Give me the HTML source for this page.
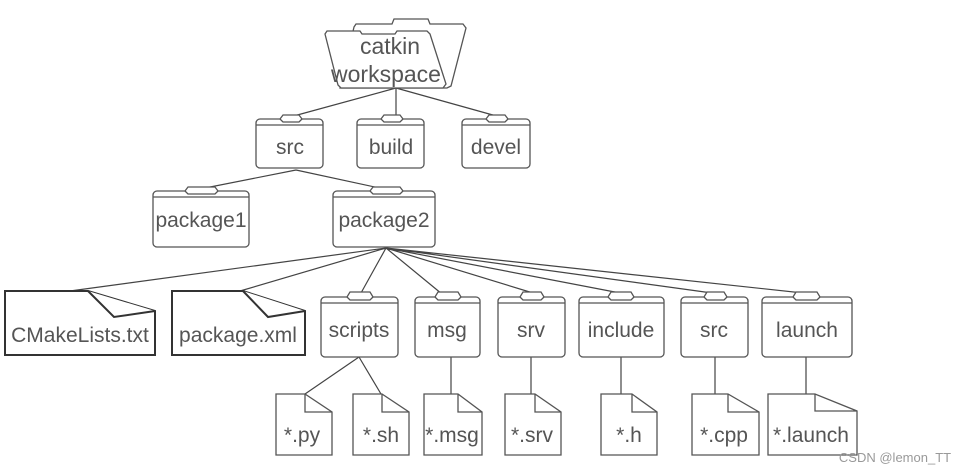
<!DOCTYPE html>
<html><head><meta charset="utf-8"><style>
html,body{margin:0;padding:0;background:#fff;}
svg{display:block}
text{font-family:"Liberation Sans",sans-serif;fill:#555;font-size:21px;text-anchor:middle;}
.f{fill:#fff;stroke:#555;stroke-width:1.3}
.d{fill:#fff;stroke:#333;stroke-width:2}
.l{stroke:#444;stroke-width:1.2;fill:none}
</style></head><body>
<svg width="964" height="473" viewBox="0 0 964 473">
<g class="l">
<path d="M396 88 L290 117 M396 88 L396 116 M396 88 L500 117"/>
<path d="M296 170 L200 189 M296 170 L384 189"/>
<path d="M386 248 L70 291 M386 248 L240 291 M386 248 L361 293 M386 248 L442 294 M386 248 L533 293 M386 248 L620 293 M386 248 L712 293 M386 248 L803 293"/>
<path d="M359 357 L305 394 M359 357 L381 394 M451 357 L451 394 M531 357 L531 394 M621 357 L621 394 M715 357 L715 394 M806 357 L806 394"/>
</g>
<path class="f" d="M354 27 L356 24 H392 L394 19 H428 L430 24 H463 L466 28 L451 86 L447 88 H340 Z"/>
<path class="f" d="M325 34 L327 31 H360 L362 34 H395 L397 31 H427 L430 34 L446 84 L443 88 H341 L338 85 Z"/>
<text x="390" y="54" style="font-size:23px">catkin</text>
<text x="386" y="82" style="font-size:23px">workspace</text>
<g class="f">
<path d="M256 123 a4 4 0 0 1 4-4 H280 L283 115 H299 L302 119 H319 a4 4 0 0 1 4 4 V164 a4 4 0 0 1-4 4 H260 a4 4 0 0 1-4-4 Z"/><path d="M256 125 H323 M280 119 L283 122 H299 L302 119"/>
<path d="M357 123 a4 4 0 0 1 4-4 H381 L384 115 H400 L403 119 H420 a4 4 0 0 1 4 4 V164 a4 4 0 0 1-4 4 H361 a4 4 0 0 1-4-4 Z"/><path d="M357 125 H424 M381 119 L384 122 H400 L403 119"/>
<path d="M462 123 a4 4 0 0 1 4-4 H486 L489 115 H505 L508 119 H526 a4 4 0 0 1 4 4 V164 a4 4 0 0 1-4 4 H466 a4 4 0 0 1-4-4 Z"/><path d="M462 125 H530 M486 119 L489 122 H505 L508 119"/>
<path d="M153 195 a4 4 0 0 1 4-4 H185 L188 187 H215 L218 191 H245 a4 4 0 0 1 4 4 V243 a4 4 0 0 1-4 4 H157 a4 4 0 0 1-4-4 Z"/><path d="M153 197 H249 M185 191 L188 194 H215 L218 191"/>
<path d="M333 195 a4 4 0 0 1 4-4 H370 L373 187 H400 L403 191 H431 a4 4 0 0 1 4 4 V243 a4 4 0 0 1-4 4 H337 a4 4 0 0 1-4-4 Z"/><path d="M333 197 H435 M370 191 L373 194 H400 L403 191"/>
<path d="M321 301 a4 4 0 0 1 4-4 H347 L350 292 H370 L373 297 H394 a4 4 0 0 1 4 4 V353 a4 4 0 0 1-4 4 H325 a4 4 0 0 1-4-4 Z"/><path d="M321 303 H398 M347 297 L350 300 H370 L373 297"/>
<path d="M415 301 a4 4 0 0 1 4-4 H435 L438 292 H458 L461 297 H476 a4 4 0 0 1 4 4 V353 a4 4 0 0 1-4 4 H419 a4 4 0 0 1-4-4 Z"/><path d="M415 303 H480 M435 297 L438 300 H458 L461 297"/>
<path d="M498 301 a4 4 0 0 1 4-4 H520 L523 292 H541 L544 297 H561 a4 4 0 0 1 4 4 V353 a4 4 0 0 1-4 4 H502 a4 4 0 0 1-4-4 Z"/><path d="M498 303 H565 M520 297 L523 300 H541 L544 297"/>
<path d="M579 301 a4 4 0 0 1 4-4 H608 L611 292 H631 L634 297 H660 a4 4 0 0 1 4 4 V353 a4 4 0 0 1-4 4 H583 a4 4 0 0 1-4-4 Z"/><path d="M579 303 H664 M608 297 L611 300 H631 L634 297"/>
<path d="M681 301 a4 4 0 0 1 4-4 H704 L707 292 H724 L727 297 H744 a4 4 0 0 1 4 4 V353 a4 4 0 0 1-4 4 H685 a4 4 0 0 1-4-4 Z"/><path d="M681 303 H748 M704 297 L707 300 H724 L727 297"/>
<path d="M762 301 a4 4 0 0 1 4-4 H793 L796 292 H817 L820 297 H848 a4 4 0 0 1 4 4 V353 a4 4 0 0 1-4 4 H766 a4 4 0 0 1-4-4 Z"/><path d="M762 303 H852 M793 297 L796 300 H817 L820 297"/>
</g>
<text x="290" y="154">src</text>
<text x="391" y="154">build</text>
<text x="496" y="154">devel</text>
<text x="201" y="227">package1</text>
<text x="384" y="227">package2</text>
<text x="359" y="337">scripts</text>
<text x="447" y="337">msg</text>
<text x="531" y="337">srv</text>
<text x="621" y="337">include</text>
<text x="714" y="337">src</text>
<text x="807" y="337">launch</text>
<g class="d">
<path d="M5 291 H88 L155 311 V355 H5 Z"/><path d="M88 291 L114 317 L155 311"/>
<path d="M172 291 H243 L305 311 V355 H172 Z"/><path d="M243 291 L268 317 L305 311"/>
</g>
<text x="80" y="342">CMakeLists.txt</text>
<text x="238" y="342">package.xml</text>
<g class="f">
<path d="M276 394 H305 L332 412 V455 H276 Z M305 394 V412 H332"/>
<path d="M353 394 H382 L409 412 V455 H353 Z M382 394 V412 H409"/>
<path d="M424 394 H458 L482 412 V455 H424 Z M458 394 V412 H482"/>
<path d="M505 394 H535 L561 412 V455 H505 Z M535 394 V412 H561"/>
<path d="M601 394 H632 L657 412 V455 H601 Z M632 394 V412 H657"/>
<path d="M692 394 H728 L759 412 V455 H692 Z M728 394 V412 H759"/>
<path d="M768 394 H815 L857 411 V455 H768 Z M815 394 V411 H857"/>
</g>
<text x="302" y="442">*.py</text>
<text x="381" y="442">*.sh</text>
<text x="452" y="442">*.msg</text>
<text x="532" y="442">*.srv</text>
<text x="629" y="442">*.h</text>
<text x="724" y="442">*.cpp</text>
<text x="811" y="442">*.launch</text>
<text x="895" y="462" style="font-size:13px;fill:#999">CSDN @lemon_TT</text>
</svg>
</body></html>
